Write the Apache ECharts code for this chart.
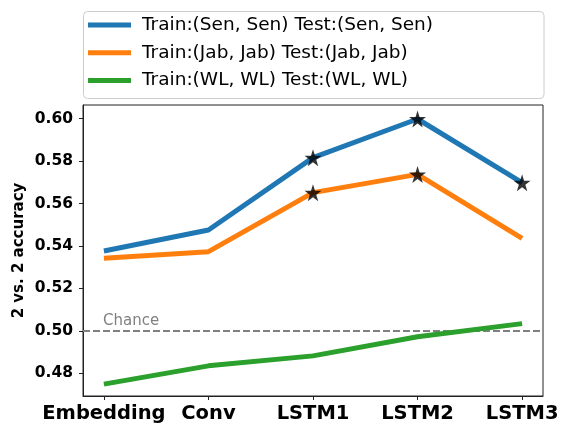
<!DOCTYPE html>
<html>
<head>
<meta charset="utf-8">
<script src="https://cdn.jsdelivr.net/npm/echarts@6/dist/echarts.min.js"></script>
<style>
  html, body { margin: 0; padding: 0; background: #fff; }
  #chart { width: 563px; height: 426px; }
</style>
</head>
<body>
<div id="chart"></div>
<script>
    // layers on the x axis
    var layers = ['Embedding', 'Conv', 'LSTM1', 'LSTM2', 'LSTM3'];
    var yTicks = [0.48, 0.50, 0.52, 0.54, 0.56, 0.58, 0.60];

    var senName = 'Train:(Sen, Sen) Test:(Sen, Sen)';
    var jabName = 'Train:(Jab, Jab) Test:(Jab, Jab)';
    var wlName = 'Train:(WL, WL) Test:(WL, WL)';

    var senValues = [0.5376, 0.5475, 0.5816, 0.5998, 0.5698];
    var jabValues = [0.5342, 0.5373, 0.5651, 0.5737, 0.5436];
    var wlValues = [0.4749, 0.4835, 0.4882, 0.4972, 0.5034];

    // layers marked with a star
    var senStars = [2, 3, 4];
    var jabStars = [2, 3];

    var chanceLevel = 0.5;

    var starPath = 'path://M0,-1000 L224,-309 L951,-309 L363,118 L588,809 L0,382 L-588,809 L-363,118 L-951,-309 L-224,-309 Z';

    function toPoints(values) {
        var res = [];
        for (var i = 0; i < values.length; i++) {
            res.push([i, values[i]]);
        }
        return res;
    }
    function starPoints(values, idx) {
        var res = [];
        for (var i = 0; i < idx.length; i++) {
            res.push([idx[i], values[idx[i]]]);
        }
        return res;
    }

    function lineSeries(name, values, color) {
        return {
            name: name,
            type: 'line',
            data: toPoints(values),
            symbol: 'none',
            color: color,
            lineStyle: { width: 5, color: color },
            z: 2
        };
    }

    var wlSeries = lineSeries(wlName, wlValues, '#2ca02c');
    wlSeries.markLine = {
        silent: true,
        symbol: 'none',
        data: [{ yAxis: chanceLevel }],
        lineStyle: { type: [7, 3], width: 2, color: '#808080' },
        label: {
            show: true,
            position: 'insideStartTop',
            formatter: 'Chance',
            color: '#808080',
            fontSize: 15,
            fontFamily: 'DejaVu Sans',
            distance: [20, 2]
        },
        z: 1
    };

    var option = {
        animation: false,
        textStyle: { fontFamily: 'DejaVu Sans' },
        graphic: [{
            type: 'rect',
            z: 0,
            shape: { x: 83.5, y: 11.5, width: 460.5, height: 87, r: 4 },
            style: { fill: '#fff', stroke: '#cccccc', lineWidth: 1 }
        }],
        legend: {
            data: [senName, jabName, wlName],
            orient: 'vertical',
            left: 88,
            top: 15,
            padding: 0,
            itemWidth: 43,
            itemHeight: 5,
            itemGap: 7.8,
            icon: 'rect',
            textStyle: {
                fontSize: 18.5,
                lineHeight: 20,
                color: '#000',
                fontFamily: 'DejaVu Sans',
                padding: [0, 0, 0, 6]
            }
        },
        grid: {
            left: 83,
            right: 20,
            top: 105,
            bottom: 30,
            show: true,
            borderColor: '#222',
            borderWidth: 1,
            backgroundColor: 'transparent'
        },
        xAxis: {
            type: 'value',
            min: -0.2,
            max: 4.2,
            splitLine: { show: false },
            axisLine: { show: true, onZero: false, lineStyle: { color: '#222', width: 1 } },
            axisTick: {
                show: true,
                length: 4,
                customValues: [0, 1, 2, 3, 4],
                lineStyle: { color: '#222', width: 1 }
            },
            axisLabel: {
                customValues: [0, 1, 2, 3, 4],
                formatter: function (v) { return layers[Math.round(v)]; },
                fontSize: 19.5,
                fontWeight: 'bold',
                fontFamily: 'DejaVu Sans',
                color: '#000',
                margin: 8
            }
        },
        yAxis: {
            type: 'value',
            min: 0.4693,
            max: 0.6064,
            name: '2 vs. 2 accuracy',
            nameLocation: 'middle',
            nameRotate: 90,
            nameGap: 56,
            nameMoveOverlap: false,
            nameTextStyle: { fontSize: 15, fontWeight: 'bold', color: '#000', fontFamily: 'DejaVu Sans' },
            splitLine: { show: false },
            axisLine: { show: true, onZero: false, lineStyle: { color: '#222', width: 1 } },
            axisTick: {
                show: true,
                length: 4,
                customValues: yTicks,
                lineStyle: { color: '#222', width: 1 }
            },
            axisLabel: {
                customValues: yTicks,
                formatter: function (v) { return v.toFixed(2); },
                fontSize: 15.5,
                fontWeight: 'bold',
                fontFamily: 'DejaVu Sans',
                color: '#000',
                margin: 10
            }
        },
        series: [
            lineSeries(senName, senValues, '#1f77b4'),
            lineSeries(jabName, jabValues, '#ff7f0e'),
            wlSeries,
            {
                name: 'senStars',
                type: 'scatter',
                data: starPoints(senValues, senStars),
                symbol: starPath,
                symbolSize: 17,
                itemStyle: { color: '#000' },
                z: 5
            },
            {
                name: 'jabStars',
                type: 'scatter',
                data: starPoints(jabValues, jabStars),
                symbol: starPath,
                symbolSize: 17,
                itemStyle: { color: '#000' },
                z: 5
            }
        ]
    };

    var myChart = echarts.init(document.getElementById('chart'));
    myChart.setOption(option);
</script>
</body>
</html>
